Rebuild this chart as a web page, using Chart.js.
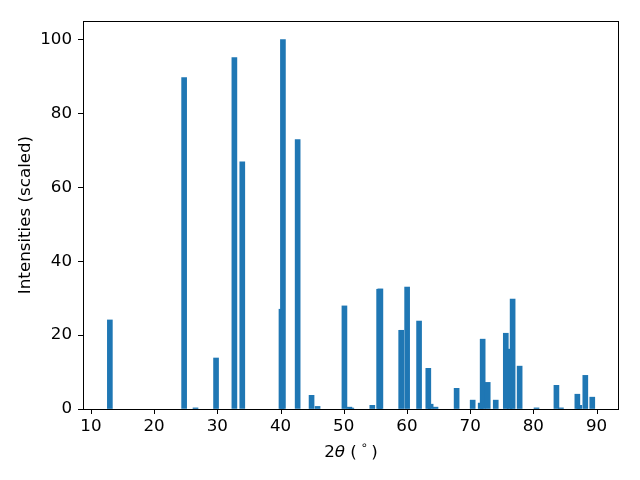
<!DOCTYPE html>
<html>
<head>
<meta charset="utf-8">
<script src="https://cdn.jsdelivr.net/npm/chart.js"></script>
<style>
  html, body { margin: 0; padding: 0; background: #fff; }
  #wrap { width: 640px; height: 480px; }
</style>
</head>
<body>
<div id="wrap"><canvas id="xrd" width="640" height="480"></canvas></div>
<script>
// peak positions (2θ, degrees) and scaled intensities, in draw order
const twoTheta  = [13.0, 24.75, 26.55, 29.8, 32.7, 33.95, 40.15, 40.38, 42.71, 44.91, 45.86,
                   50.11, 50.9, 51.2, 54.52, 55.6, 55.8, 59.09, 60.03, 61.92, 63.75, 63.38, 64.52,
                   67.86, 70.4, 71.67, 71.98, 72.78, 74.05, 76.25, 75.64, 76.72, 77.83, 80.5,
                   83.65, 84.36, 87.26, 86.96, 88.22, 89.32];
const intensity = [24.1, 89.7, 0.3, 13.8, 95.1, 66.9, 27.0, 100, 72.9, 3.7, 0.7,
                   27.9, 0.5, 0.25, 1.0, 32.4, 32.5, 21.3, 33.0, 23.8, 1.3, 11.0, 0.5,
                   5.6, 2.4, 1.6, 18.9, 7.2, 2.4, 16.2, 20.5, 29.75, 11.6, 0.3,
                   6.4, 0.3, 1.0, 4.0, 9.1, 3.2];
const xTicks = [10, 20, 30, 40, 50, 60, 70, 80, 90];
const yTicks = [0, 20, 40, 60, 80, 100];
const yTitle = "Intensities (scaled)";

const FONT = "'DejaVu Sans', sans-serif";
const FS = 16.7;

// frame, tick marks + axis labels (x label in mathtext style: 2θ (°))
const decor = {
  id: "decor",
  afterDraw(chart) {
    const { ctx, chartArea: a, scales } = chart;
    ctx.save();
    ctx.strokeStyle = "#000";
    ctx.lineWidth = 1;
    ctx.strokeRect(a.left + 0.5, a.top + 0.5, a.right - a.left - 1, a.bottom - a.top);

    ctx.beginPath();
    xTicks.forEach(v => {
      const px = Math.round(scales.x.getPixelForValue(v)) + 0.5;
      ctx.moveTo(px, a.bottom); ctx.lineTo(px, a.bottom + 5);
    });
    yTicks.forEach(v => {
      const py = Math.round(scales.y.getPixelForValue(v)) + 0.5;
      ctx.moveTo(a.left - 5, py); ctx.lineTo(a.left, py);
    });
    ctx.stroke();

    const parts = [
      { t: "2", f: FS + "px " + FONT, dy: 0 },
      { t: "θ", f: "italic " + FS + "px " + FONT, dy: 0 },
      { t: " (", f: FS + "px " + FONT, dy: 0 },
      { t: " ∘ ", f: "11.5px " + FONT, dy: -6 },
      { t: ")", f: FS + "px " + FONT, dy: 0 },
    ];
    let w = 0;
    parts.forEach(p => { ctx.font = p.f; p.w = ctx.measureText(p.t).width; w += p.w; });
    let x = (a.left + a.right) / 2 - w / 2;
    const y = 452.5;
    ctx.fillStyle = "#000";
    ctx.textBaseline = "middle";
    parts.forEach(p => { ctx.font = p.f; ctx.fillText(p.t, x, y + p.dy); x += p.w; });

    ctx.translate(26, (a.top + a.bottom) / 2);
    ctx.rotate(-Math.PI / 2);
    ctx.font = FS + "px " + FONT;
    ctx.textAlign = "center";
    ctx.fillText(yTitle, 0, 0);
    ctx.restore();
  }
};

new Chart(document.getElementById("xrd"), {
  type: "bar",
  data: {
    datasets: [{
      data: twoTheta.map((t, i) => ({ x: t, y: intensity[i] })),
      backgroundColor: "#1f77b4",
      borderWidth: 0,
      barThickness: 5,
    }],
  },
  options: {
    responsive: false,
    animation: false,
    layout: { padding: { top: 21, right: 21, left: 0, bottom: 0 } },
    plugins: { legend: { display: false }, tooltip: { enabled: false } },
    scales: {
      x: {
        type: "linear", min: 8.75, max: 93.55, offset: false,
        grid: { offset: false, drawOnChartArea: false, drawTicks: true, tickLength: 5, color: "rgba(0,0,0,0)" },
        border: { display: false },
        afterBuildTicks: s => { s.ticks = xTicks.map(v => ({ value: v })); },
        afterFit: s => { s.height = 71; },
        ticks: { color: "#000", font: { family: FONT, size: FS }, padding: 3, maxRotation: 0 },
      },
      y: {
        min: 0, max: 105,
        grid: { offset: false, drawOnChartArea: false, drawTicks: true, tickLength: 5, color: "rgba(0,0,0,0)" },
        border: { display: false },
        afterBuildTicks: s => { s.ticks = yTicks.map(v => ({ value: v })); },
        afterFit: s => { s.width = 83; },
        ticks: { color: "#000", font: { family: FONT, size: FS }, padding: 6 },
      },
    },
  },
  plugins: [decor],
});
</script>
</body>
</html>
